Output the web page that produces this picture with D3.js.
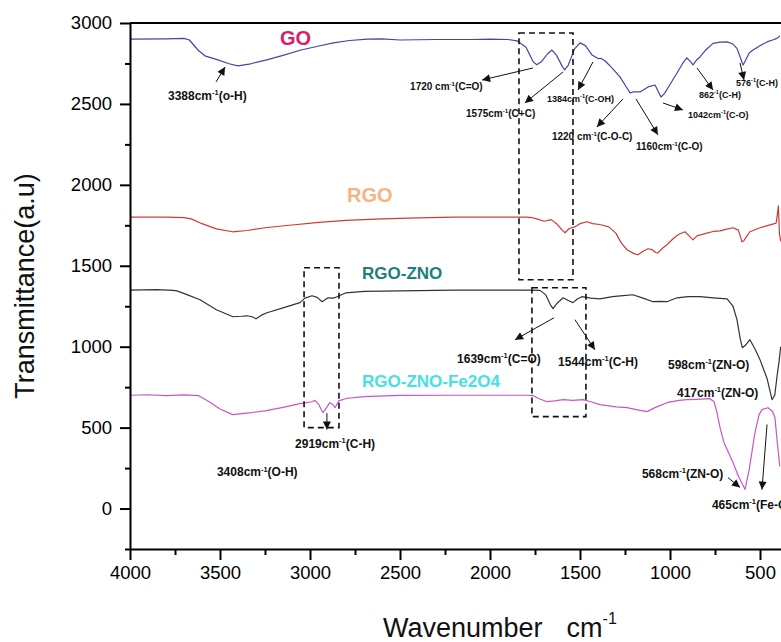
<!DOCTYPE html>
<html>
<head>
<meta charset="utf-8">
<script src="https://cdn.jsdelivr.net/npm/d3@7"></script>
<style>
  body { margin: 0; background: #fff; }
  svg { display: block; font-family: Arial, "Liberation Sans", sans-serif; }
</style>
</head>
<body>
<div id="app"></div>
<script>
// --- data (wavenumber cm-1, transmittance a.u.) ---
const goSpectrum = [
  [4000,2900],[3800,2902],[3700,2905],[3670,2895],[3620,2830],[3580,2795],[3520,2775],[3450,2748],
  [3400,2735],[3330,2748],[3240,2772],[3150,2800],[3050,2833],[2950,2858],[2870,2877],[2780,2892],
  [2680,2900],[2600,2902],[2500,2895],[2300,2898],[2100,2898],[2000,2900],[1900,2898],[1850,2890],
  [1800,2850],[1760,2760],[1740,2742],[1715,2760],[1680,2810],[1656,2833],[1630,2800],[1600,2735],
  [1585,2710],[1565,2740],[1530,2840],[1500,2877],[1470,2860],[1433,2802],[1400,2780],[1384,2782],
  [1360,2765],[1320,2720],[1278,2667],[1240,2600],[1222,2568],[1200,2575],[1167,2574],[1122,2605],
  [1083,2617],[1060,2565],[1050,2543],[1030,2565],[1000,2620],[961,2691],[930,2750],[906,2784],
  [885,2760],[872,2741],[850,2775],[833,2790],[800,2835],[761,2874],[720,2882],[683,2883],[650,2870],
  [628,2843],[610,2790],[594,2740],[580,2770],[560,2815],[539,2833],[500,2860],[461,2883],[430,2895],
  [406,2905],[390,2920]
];
const rgoSpectrum = [
  [4000,1800],[3800,1800],[3700,1798],[3660,1790],[3600,1760],[3520,1728],[3430,1710],[3350,1718],
  [3250,1735],[3100,1752],[2950,1768],[2800,1780],[2600,1790],[2400,1796],[2200,1800],[2000,1800],
  [1800,1800],[1770,1798],[1740,1790],[1700,1775],[1660,1785],[1630,1760],[1600,1722],[1583,1704],
  [1560,1730],[1530,1740],[1500,1760],[1461,1772],[1430,1760],[1390,1755],[1340,1740],[1300,1700],
  [1270,1640],[1239,1599],[1200,1575],[1178,1568],[1150,1590],[1122,1605],[1100,1600],[1080,1582],
  [1067,1580],[1040,1610],[1017,1630],[980,1670],[950,1695],[917,1710],[890,1680],[872,1660],
  [850,1685],[800,1700],[760,1712],[722,1716],[690,1725],[650,1735],[620,1720],[600,1648],[590,1655],
  [556,1710],[500,1735],[444,1753],[420,1760],[410,1765],[402,1830],[398,1870],[392,1700],[385,1650]
];
const rgoZnoSpectrum = [
  [4000,1350],[3850,1352],[3760,1348],[3739,1345],[3680,1320],[3611,1290],[3520,1228],[3428,1185],
  [3380,1188],[3350,1191],[3320,1185],[3300,1172],[3270,1195],[3239,1210],[3150,1240],[3056,1272],
  [3028,1300],[2989,1315],[2960,1305],[2933,1278],[2900,1302],[2870,1300],[2850,1309],[2800,1333],
  [2700,1342],[2500,1345],[2200,1350],[2000,1350],[1800,1350],[1722,1348],[1690,1320],[1665,1260],
  [1650,1235],[1630,1265],[1594,1302],[1565,1285],[1539,1272],[1515,1295],[1489,1309],[1440,1300],
  [1389,1296],[1320,1309],[1260,1315],[1206,1321],[1150,1300],[1094,1278],[1050,1280],[1017,1278],
  [961,1302],[900,1309],[833,1309],[760,1302],[683,1296],[650,1250],[628,1167],[610,1050],[598,994],
  [580,1010],[556,1043],[530,990],[500,920],[460,800],[433,673],[418,700],[405,820],[395,900],[385,1000]
];
const rgoZnoFeSpectrum = [
  [4000,700],[3900,703],[3800,698],[3700,702],[3620,698],[3560,660],[3500,615],[3430,580],[3350,590],
  [3250,603],[3150,625],[3056,648],[2990,660],[2972,668],[2950,640],[2928,592],[2910,620],[2890,654],
  [2870,640],[2861,623],[2840,665],[2800,680],[2700,692],[2500,699],[2200,700],[2000,700],[1800,700],
  [1761,698],[1730,680],[1683,660],[1640,665],[1594,673],[1540,668],[1483,673],[1440,660],[1389,642],
  [1300,628],[1239,623],[1180,610],[1128,599],[1080,625],[1017,654],[950,668],[906,673],[850,675],
  [778,679],[755,660],[739,592],[722,500],[700,407],[650,284],[620,200],[583,118],[560,240],[528,469],
  [505,580],[489,611],[456,623],[430,600],[417,562],[405,420],[390,260]
];

const seriesNames = ["GO", "RGO", "RGO-ZNO", "RGO-ZNO-Fe2O4"];
const seriesColors = ["#4444aa", "#cc3b3b", "#333333", "#c955c9"];
const labelColors = ["#d81e6b", "#f4b583", "#1c7f7c", "#44e2e2"];
// label anchor (wavenumber, value)
const labelPos = [[3167,2864],[2794,1895],[2711,1420],[2711,753]];

const xMajor = [4000, 3500, 3000, 2500, 2000, 1500, 1000, 500];
const xMinor = [3750, 3250, 2750, 2250, 1750, 1250, 750];
const yMajor = [0, 500, 1000, 1500, 2000, 2500, 3000];
const yMinor = [-250, 250, 750, 1250, 1750, 2250, 2750];

// peak annotations: text anchor + optional arrow (from -> tip)
const notes = [
  { w: 3789, v: 2525, pre: "3388cm", post: "(o-H)", size: 12, arrow: [3522, 2636, 3472, 2728] },
  { w: 2444, v: 2586, pre: "1720 cm", post: "(C=O)", size: 10, arrow: [1761, 2722, 2044, 2648] },
  { w: 2133, v: 2420, pre: "1575cm", post: "(C+C)", size: 10, arrow: [1594, 2698, 1806, 2506] },
  { w: 1683, v: 2512, pre: "1384cm", post: "(C-OH)", size: 9, arrow: [1428, 2759, 1511, 2586] },
  { w: 1656, v: 2278, pre: "1220 cm", post: "(C-O-C)", size: 10, arrow: [1261, 2531, 1406, 2358] },
  { w: 1189, v: 2216, pre: "1160cm", post: "(C-O)", size: 10, arrow: [1189, 2531, 1067, 2309] },
  { w: 900, v: 2414, pre: "1042cm", post: "(C-O)", size: 9, arrow: [1039, 2506, 928, 2463] },
  { w: 839, v: 2537, pre: "862", post: "(C-H)", size: 9, arrow: [850, 2722, 761, 2586] },
  { w: 633, v: 2611, pre: "576", post: "(C-H)", size: 9, arrow: [611, 2753, 589, 2648] },
  { w: 3083, v: 377, pre: "2919cm", post: "(C-H)", size: 12, arrow: [2906, 590, 2906, 488] },
  { w: 3517, v: 198, pre: "3408cm", post: "(O-H)", size: 12 },
  { w: 2183, v: 901, pre: "1639cm", post: "(C=O)", size: 12, arrow: [1644, 1179, 1861, 1043] },
  { w: 1622, v: 883, pre: "1544cm", post: "(C-H)", size: 12, arrow: [1528, 1167, 1417, 981] },
  { w: 1011, v: 864, pre: "598cm", post: "(ZN-O)", size: 12 },
  { w: 961, v: 691, pre: "417cm", post: "(ZN-O)", size: 12 },
  { w: 1156, v: 191, pre: "568cm", post: "(ZN-O)", size: 12, arrow: [678, 191, 611, 130] },
  { w: 767, v: 0, pre: "465cm", post: "(Fe-O)", size: 12, arrow: [461, 519, 489, 117] }
];

// dashed highlight boxes [w1, w2, v1, v2]
const boxes = [
  [1839, 1539, 2938, 1414],
  [1767, 1467, 1364, 568],
  [3033, 2839, 1488, 500]
];

const width = 781, height = 642;

const x = d3.scaleLinear().domain([4000, 350]).range([130, 787]);
const y = d3.scaleLinear().domain([-250, 3000]).range([549, 23]);

const svg = d3.select("#app").append("svg")
  .attr("width", width)
  .attr("height", height);

const plot = svg.append("g");

const line = d3.line()
  .x(d => x(d[0]))
  .y(d => y(d[1]));

const spectra = [goSpectrum, rgoSpectrum, rgoZnoSpectrum, rgoZnoFeSpectrum];
plot.selectAll("path.spec")
  .data(spectra)
  .join("path")
  .attr("class", "spec")
  .attr("d", line)
  .attr("fill", "none")
  .attr("stroke", (d, i) => seriesColors[i])
  .attr("stroke-width", 1.2)
  .attr("stroke-linejoin", "round");

// dashed boxes
plot.selectAll("rect.box")
  .data(boxes)
  .join("rect")
  .attr("class", "box")
  .attr("x", d => x(d[0]))
  .attr("y", d => y(d[2]))
  .attr("width", d => x(d[1]) - x(d[0]))
  .attr("height", d => y(d[3]) - y(d[2]))
  .attr("fill", "none")
  .attr("stroke", "#111")
  .attr("stroke-width", 1.6)
  .attr("stroke-dasharray", "6,4");

// arrows
svg.append("defs").append("marker")
  .attr("id", "arrow")
  .attr("viewBox", "0 -5 10 10")
  .attr("refX", 10)
  .attr("refY", 0)
  .attr("markerWidth", 12)
  .attr("markerHeight", 8)
  .attr("markerUnits", "userSpaceOnUse")
  .attr("orient", "auto")
  .append("path")
  .attr("d", "M0,-5L10,0L0,5Z")
  .attr("fill", "#111");

plot.selectAll("line.arrow")
  .data(notes.filter(d => d.arrow))
  .join("line")
  .attr("class", "arrow")
  .attr("x1", d => x(d.arrow[0]))
  .attr("y1", d => y(d.arrow[1]))
  .attr("x2", d => x(d.arrow[2]))
  .attr("y2", d => y(d.arrow[3]))
  .attr("stroke", "#111")
  .attr("stroke-width", 1)
  .attr("marker-end", "url(#arrow)");

// annotation texts
const noteText = plot.selectAll("text.note")
  .data(notes)
  .join("text")
  .attr("class", "note")
  .attr("x", d => x(d.w))
  .attr("y", d => y(d.v))
  .attr("font-size", d => d.size)
  .attr("font-weight", "bold")
  .attr("fill", "#111");
noteText.append("tspan").text(d => d.pre);
noteText.append("tspan")
  .attr("font-size", d => d.size * 0.62)
  .attr("dy", d => -d.size * 0.4)
  .text("-1");
noteText.append("tspan")
  .attr("dy", d => d.size * 0.4)
  .text(d => d.post);

// series labels
plot.selectAll("text.series")
  .data(seriesNames)
  .join("text")
  .attr("class", "series")
  .attr("x", (d, i) => x(labelPos[i][0]))
  .attr("y", (d, i) => y(labelPos[i][1]))
  .attr("font-size", (d, i) => i < 2 ? 20 : 17)
  .attr("font-weight", "bold")
  .attr("fill", (d, i) => labelColors[i])
  .text(d => d);

// axes
svg.append("g")
  .attr("transform", `translate(0,${y(-250)})`)
  .call(d3.axisBottom(x).tickValues(xMajor).tickSize(11).tickSizeOuter(0).tickPadding(6).tickFormat(d3.format("d")));
svg.append("g")
  .attr("transform", `translate(0,${y(-250)})`)
  .call(d3.axisBottom(x).tickValues(xMinor).tickSize(6).tickFormat(""))
  .call(g => g.select(".domain").remove());

svg.append("g")
  .attr("transform", `translate(${x(4000)},0)`)
  .call(d3.axisLeft(y).tickValues(yMajor).tickSize(10).tickSizeOuter(0).tickPadding(8).tickFormat(d3.format("d")));
svg.append("g")
  .attr("transform", `translate(${x(4000)},0)`)
  .call(d3.axisLeft(y).tickValues(yMinor).tickSize(5).tickFormat(""))
  .call(g => g.select(".domain").remove());

svg.selectAll(".domain, .tick line")
  .attr("stroke", "#000")
  .attr("stroke-width", 2);
svg.selectAll(".tick text")
  .attr("font-size", 18.5)
  .attr("font-family", "Arial, 'Liberation Sans', sans-serif")
  .attr("fill", "#000");

// top and right frame lines
svg.append("line")
  .attr("x1", x(4000)).attr("x2", x(350))
  .attr("y1", y(3000)).attr("y2", y(3000))
  .attr("stroke", "#000").attr("stroke-width", 2);
svg.append("line")
  .attr("x1", x(350)).attr("x2", x(350))
  .attr("y1", y(3000)).attr("y2", y(-250))
  .attr("stroke", "#000").attr("stroke-width", 2);

// titles
svg.append("text")
  .attr("transform", "translate(34,286) rotate(-90)")
  .attr("text-anchor", "middle")
  .attr("font-size", 27)
  .attr("fill", "#111")
  .text("Transmittance(a.u)");

const xt = svg.append("text")
  .attr("x", 383)
  .attr("y", 637)
  .attr("font-size", 27)
  .attr("fill", "#111");
xt.append("tspan").text("Wavenumber");
xt.append("tspan").attr("dx", 24).text("cm");
xt.append("tspan").attr("font-size", 16).attr("dy", -13).text("-1");
</script>
</body>
</html>
